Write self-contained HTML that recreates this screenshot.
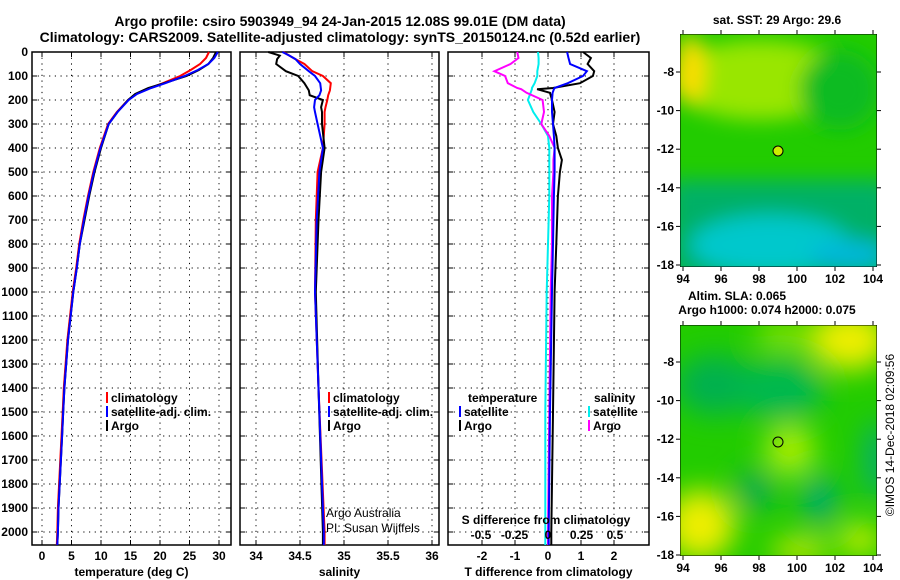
<!DOCTYPE html>
<html><head><meta charset="utf-8"><style>
body{margin:0;background:#fff}
svg{display:block;font-family:"Liberation Sans",sans-serif;font-weight:bold}
text{font-size:12px}
</style></head><body>
<svg id="c" width="900" height="580" viewBox="0 0 900 580">
<text x="340" y="26" text-anchor="middle" style="font-size:14px">Argo profile: csiro 5903949_94 24-Jan-2015 12.08S 99.01E (DM data)</text>
<text x="340" y="42" text-anchor="middle" style="font-size:14px">Climatology: CARS2009. Satellite-adjusted climatology: synTS_20150124.nc (0.52d earlier)</text>
<g id="panels"></g>
<defs>
<filter id="bl" x="-50%" y="-50%" width="200%" height="200%"><feGaussianBlur stdDeviation="10"/></filter>
<filter id="bl2" x="-50%" y="-50%" width="200%" height="200%"><feGaussianBlur stdDeviation="14"/></filter>
<clipPath id="m1c"><rect x="680" y="34" width="197" height="233"/></clipPath>
<clipPath id="m2c"><rect x="680" y="325" width="197" height="231"/></clipPath>
</defs>
<g>
<text x="777" y="24" text-anchor="middle">sat. SST: 29 Argo: 29.6</text>
<g clip-path="url(#m1c)">
<rect x="680" y="34" width="197" height="233" fill="#22cc00"/>
<g filter="url(#bl)">
<ellipse cx="760" cy="80" rx="90" ry="40" fill="#99e600"/>
<ellipse cx="690" cy="70" rx="15" ry="35" fill="#ffdd00"/>
<ellipse cx="840" cy="90" rx="40" ry="40" fill="#11bb22"/>
<rect x="670" y="180" width="220" height="100" fill="#00b066"/>
<ellipse cx="770" cy="245" rx="80" ry="30" fill="#00c8cc"/>
<ellipse cx="850" cy="255" rx="40" ry="15" fill="#00b8d8"/>
</g>
<rect x="680" y="34" width="197" height="233" fill="none" stroke="#000"/>
</g>
<circle cx="778" cy="151" r="5" fill="#ccee00" stroke="#000"/>
</g>
<g>
<text x="737" y="300" text-anchor="middle">Altim. SLA: 0.065</text>
<text x="767" y="314" text-anchor="middle">Argo h1000: 0.074 h2000: 0.075</text>
<g clip-path="url(#m2c)">
<rect x="680" y="325" width="197" height="231" fill="#22cc00"/>
<g filter="url(#bl2)">
<ellipse cx="715" cy="385" rx="40" ry="30" fill="#00b050"/>
<ellipse cx="780" cy="390" rx="45" ry="30" fill="#00b850"/>
<ellipse cx="850" cy="340" rx="40" ry="30" fill="#eeee00"/>
<ellipse cx="785" cy="335" rx="30" ry="12" fill="#99e600"/>
<ellipse cx="790" cy="450" rx="25" ry="25" fill="#aaee00"/>
<ellipse cx="700" cy="525" rx="35" ry="35" fill="#eeee00"/>
<ellipse cx="755" cy="490" rx="20" ry="20" fill="#00aa55"/>
<ellipse cx="820" cy="500" rx="18" ry="25" fill="#00aa70"/>
<ellipse cx="800" cy="550" rx="30" ry="10" fill="#eeee00"/>
<ellipse cx="860" cy="540" rx="22" ry="16" fill="#ccee00"/>
<ellipse cx="877" cy="460" rx="12" ry="40" fill="#00aa80"/>
</g>
<rect x="680" y="325" width="197" height="231" fill="none" stroke="#000"/>
</g>
<circle cx="778" cy="442" r="5" fill="none" stroke="#000"/>
</g>
<text transform="translate(894,435) rotate(-90)" text-anchor="middle" style="font-weight:normal;font-size:12px">©IMOS 14-Dec-2018 02:09:56</text>
</svg>
<script>
const depths=[0,25,50,75,100,130,150,175,200,250,300,400,500,600,700,800,900,1000,1200,1400,1500,1600,1700,1800,1900,2000,2054];
const tempClim=[28.3,27.8,26.8,25.2,23.4,20.5,18.3,16,14.6,12.7,11.2,9.8,8.7,7.8,7,6.3,5.8,5.2,4.3,3.7,3.5,3.3,3.1,2.9,2.7,2.6,2.5];
const tempSat=[29.8,29.2,28.2,26.4,24.2,20.9,18.5,16.1,14.7,12.8,11.3,9.9,8.8,7.9,7.1,6.4,5.9,5.3,4.4,3.8,3.6,3.4,3.2,3.0,2.8,2.7,2.6];
const tempArgo=[29.5,29.0,28.2,26.6,24.5,20.7,18.0,15.8,14.6,12.8,11.3,10,8.9,8,7.2,6.4,5.9,5.3,4.4,3.8,3.6,3.4,3.2,3.0,2.8,2.7,2.6];
const salDepths=[0,15,30,50,80,100,130,160,180,200,230,250,300,400,500,700,1000,1400,2000,2054];
const salClim=[34.31,34.38,34.45,34.55,34.64,34.76,34.85,34.84,34.82,34.81,34.79,34.78,34.78,34.76,34.70,34.68,34.67,34.71,34.78,34.78];
const salSat=[34.30,34.38,34.45,34.5,34.6,34.67,34.73,34.74,34.72,34.67,34.66,34.67,34.70,34.76,34.72,34.69,34.67,34.71,34.77,34.77];
const salArgo=[34.14,34.27,34.24,34.23,34.34,34.48,34.55,34.6,34.61,34.76,34.74,34.75,34.75,34.78,34.74,34.71,34.68,34.71,34.76,34.76];
const dDepths=[0,25,50,80,100,130,150,155,170,200,250,300,350,400,450,500,600,800,1000,1500,2000,2054];
const dTempArgo=[1.06,1.3,1.2,1.4,1.36,0.97,0.15,-0.33,0.06,0.12,0.2,0.15,0.25,0.3,0.42,0.36,0.3,0.25,0.2,0.15,0.1,0.1];
const dTempSat=[0.58,0.62,0.67,1.18,1.06,0.6,0.2,0.18,0.14,0.12,0.12,0.15,0.18,0.2,0.2,0.2,0.18,0.15,0.12,0.06,0.02,0.02];
const dSalArgo=[-0.23,-0.22,-0.28,-0.4,-0.32,-0.3,-0.23,-0.2,-0.16,-0.04,-0.03,-0.05,0.01,0.05,0.04,0.04,0.03,0.03,0.02,0.01,0,0];
const dSalSat=[-0.075,-0.07,-0.07,-0.08,-0.08,-0.1,-0.12,-0.12,-0.13,-0.15,-0.11,-0.05,0,0.01,0.01,0.01,0.01,0.0,-0.01,-0.02,-0.02,-0.02];
const depthTicks=[0,100,200,300,400,500,600,700,800,900,1000,1100,1200,1300,1400,1500,1600,1700,1800,1900,2000];
const tempTicks=[0,5,10,15,20,25,30];
const salTicks=[34,34.5,35,35.5,36];
const tdTicks=[-2,-1,0,1,2];
const sdTicks=[-0.5,-0.25,0,0.25,0.5];

const NS='http://www.w3.org/2000/svg';
const G=document.getElementById('panels');
function mk(t,a,p){const e=document.createElementNS(NS,t);for(const k in a)e.setAttribute(k,a[k]);(p||G).appendChild(e);return e;}
const yS=d=>52+d*0.24;
const tX=v=>42+v*5.9;
const sX=v=>256+(v-34)*88;
const dX=v=>548+v*33;
const sdX=v=>548+v*134;
const TOP=52,BOT=545;
function panel(name,x0,x1,xs,ticks,fmt,title,lab){
  const g=mk('g',{});
  
  
  depthTicks.forEach(d=>{const l=mk('line',{x1:x0,x2:x1,y1:yS(d),y2:yS(d),stroke:'#000','stroke-dasharray':'1.2,4.5'},g);
    mk('line',{x1:x0,x2:x0+5,y1:yS(d),y2:yS(d),stroke:'#000'},g);mk('line',{x1:x1-5,x2:x1,y1:yS(d),y2:yS(d),stroke:'#000'},g);});
  ticks.forEach(v=>{const x=xs(v);const l=mk('line',{x1:x,x2:x,y1:TOP,y2:BOT,stroke:'#000','stroke-dasharray':'1.2,4.5'},g);
    mk('line',{x1:x,x2:x,y1:BOT-5,y2:BOT,stroke:'#000'},g);mk('line',{x1:x,x2:x,y1:TOP,y2:TOP+5,stroke:'#000'},g);
    const t=mk('text',{x:x,y:560,'text-anchor':'middle'},g);t.textContent=fmt(v);});
  const r=mk('rect',{x:x0,y:TOP,width:x1-x0,height:BOT-TOP,fill:'none',stroke:'#000','stroke-width':1.5},g);
  
  const t=mk('text',{x:(x0+x1)/2,y:576,'text-anchor':'middle'},g);t.textContent=title;
  
  return g;
}
function line(g,ds,vs,xs,col,name){
  const p=mk('path',{d:ds.map((d,i)=>(i?'L':'M')+xs(vs[i]).toFixed(1)+','+yS(d).toFixed(1)).join(''),fill:'none',stroke:col,'stroke-width':2},g);
  
}
function leg(g,x,y,col,txt,name){
  mk('rect',{x:x,y:y-10,width:2,height:11,fill:col},g);
  const t=mk('text',{x:x+5,y:y},g);t.textContent=txt;
  
}
// y axis labels
depthTicks.forEach(d=>{const t=mk('text',{x:28,y:yS(d)+4,'text-anchor':'end'});t.textContent=d;
  });
const g1=panel('temperature-panel',32,231,tX,tempTicks,v=>v,'temperature (deg C)','temperature-axis-title');
line(g1,depths,tempClim,tX,'#f00','temp-climatology-line');
line(g1,depths,tempArgo,tX,'#000','temp-argo-line');
line(g1,depths,tempSat,tX,'#00f','temp-satellite-line');
leg(g1,106,402,'#f00','climatology','legend-climatology');
leg(g1,106,416,'#00f','satellite-adj. clim.','legend-satellite');
leg(g1,106,430,'#000','Argo','legend-argo');
const g2=panel('salinity-panel',240,439,sX,salTicks,v=>v,'salinity','salinity-axis-title');
line(g2,salDepths,salClim,sX,'#f00','sal-climatology-line');
line(g2,salDepths,salArgo,sX,'#000','sal-argo-line');
line(g2,salDepths,salSat,sX,'#00f','sal-satellite-line');
leg(g2,328,402,'#f00','climatology','legend-climatology');
leg(g2,328,416,'#00f','satellite-adj. clim.','legend-satellite');
leg(g2,328,430,'#000','Argo','legend-argo');
[['Argo Australia',555],['PI: Susan Wijffels',571-39]].forEach(([s,y],i)=>{const t=mk('text',{x:326,y:i?532:517,style:'font-weight:normal'},g2);t.textContent=s;
  });
const g3=panel('difference-panel',448,649,dX,tdTicks,v=>v,'T difference from climatology','t-diff-axis-title');
line(g3,dDepths,dSalSat,sdX,'#0ee','sdiff-satellite-line');
line(g3,dDepths,dSalArgo,sdX,'#f0f','sdiff-argo-line');
line(g3,dDepths,dTempArgo,dX,'#000','tdiff-argo-line');
line(g3,dDepths,dTempSat,dX,'#00f','tdiff-satellite-line');
const tt=mk('text',{x:468,y:402},g3);tt.textContent='temperature';
const st=mk('text',{x:594,y:402},g3);st.textContent='salinity';
leg(g3,459,416,'#00f','satellite','legend-t-satellite');
leg(g3,459,430,'#000','Argo','legend-t-argo');
leg(g3,588,416,'#0ee','satellite','legend-s-satellite');
leg(g3,588,430,'#f0f','Argo','legend-s-argo');
const sd=mk('text',{x:546,y:524,'text-anchor':'middle'},g3);sd.textContent='S difference from climatology';

sdTicks.forEach(v=>{const t=mk('text',{x:sdX(v),y:539,'text-anchor':'middle'},g3);t.textContent=String(v).replace('0.','0.').replace(/^(-?)0\./,'$10.');
  });
// map axes
const lonTicks=[94,96,98,100,102,104];
const lonX=v=>683+(v-94)*19;
function mapAxes(top,bot,latY,name){
  const g=mk('g',{});
  lonTicks.forEach(v=>{mk('line',{x1:lonX(v),x2:lonX(v),y1:bot,y2:bot+4,stroke:'#000'},g);mk('line',{x1:lonX(v),x2:lonX(v),y1:top-4,y2:top,stroke:'#000'},g);
    const t=mk('text',{x:lonX(v),y:bot+16,'text-anchor':'middle'},g);t.textContent=v;});
  [-8,-10,-12,-14,-16,-18].forEach(v=>{const y=latY(v);mk('line',{x1:676,x2:680,y1:y,y2:y,stroke:'#000'},g);mk('line',{x1:877,x2:881,y1:y,y2:y,stroke:'#000'},g);
    const t=mk('text',{x:674,y:y+4,'text-anchor':'end'},g);t.textContent=v;});
}
mapAxes(34,267,v=>72+(-8-v)*19.3,'sst-map-axes');
mapAxes(325,556,v=>362+(-8-v)*19.3,'sla-map-axes');
</script>
</body></html>
